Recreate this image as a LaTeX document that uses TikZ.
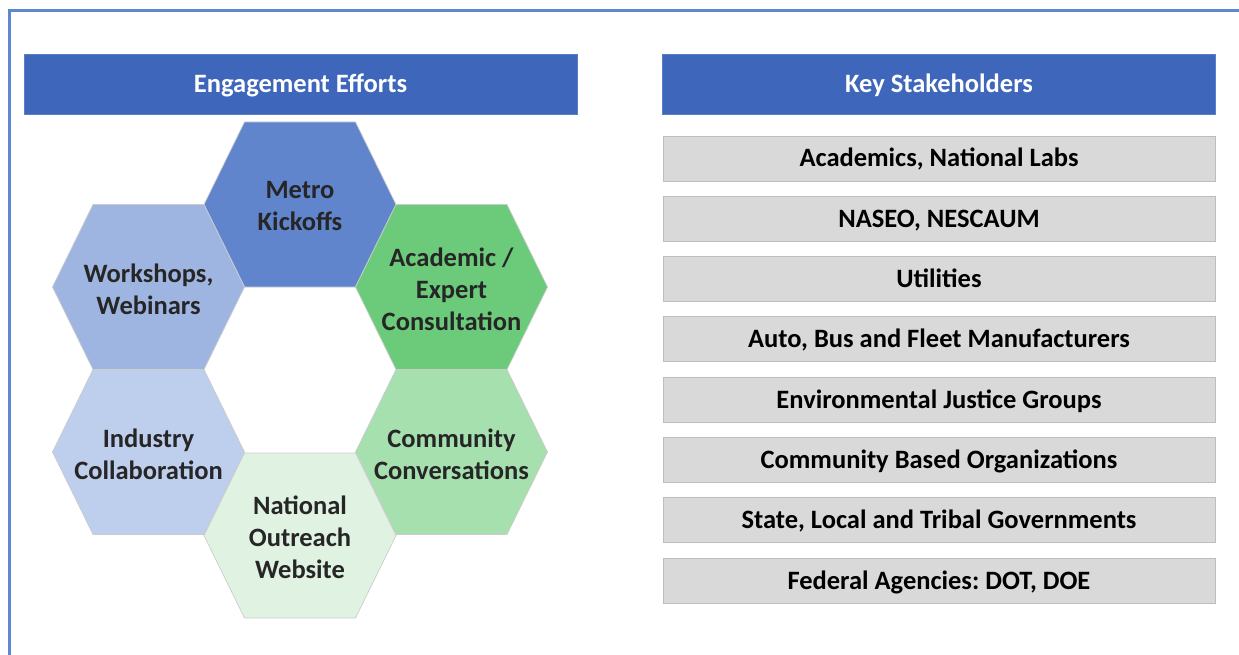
\documentclass[tikz,border=0pt]{standalone}
\usepackage{fontspec}
\setmainfont{Carlito}
\usepackage{tikz}
\usetikzlibrary{calc}
\frenchspacing

\definecolor{hdrblue}{HTML}{3E67BC}
\definecolor{framblue}{HTML}{5E86D2}
\definecolor{greybox}{HTML}{D9D9D9}
\definecolor{greyedge}{HTML}{BDBDBD}
\definecolor{hexA}{HTML}{6085CC}
\definecolor{hexB}{HTML}{9FB5E1}
\definecolor{hexC}{HTML}{BECEED}
\definecolor{hexD}{HTML}{6BCB7A}
\definecolor{hexE}{HTML}{A6E0AF}
\definecolor{hexF}{HTML}{E0F3E3}
\definecolor{hextext}{HTML}{262626}

\begin{document}
\begin{tikzpicture}[x=1pt, y=-1pt]
  % -----------------------------
  % USER SETTINGS
  % -----------------------------
  \def\hexW{96}     % half width of hexagon (side vertex)
  \def\hexT{55.5}   % half length of top edge
  \def\hexH{82.5}   % half height of hexagon
  \def\boxgap{60.29} % pitch of stakeholder boxes

  % -----------------------------
  % STYLES
  % -----------------------------
  \tikzset{
    hdr/.style={fill=hdrblue, draw=hdrblue!85!white, minimum width=553pt, minimum height=60pt,
      inner sep=0pt, text=white, font=\fontsize{26.5}{30}\selectfont\bfseries},
    sbox/.style={fill=greybox, draw=greyedge, line width=0.8pt, minimum width=552pt, minimum height=45pt,
      inner sep=0pt, font=\fontsize{26.5}{30}\selectfont\bfseries},
    hexfill/.style={fill=#1, draw=white!80!black, line width=0.7pt},
    hexlab/.style={align=center, text=hextext, inner sep=0pt, font=\fontsize{26.5}{32}\selectfont\bfseries},
    lift/.style={text depth=0pt, text height=17pt},
  }

  \useasboundingbox (0,0) rectangle (1239,655);

  % -----------------------------
  % OUTER FRAME (open to right and bottom)
  % -----------------------------
  \draw[framblue, line width=3pt] (9,655) -- (9,11) -- (1239,11);

  % -----------------------------
  % HEADERS
  % -----------------------------
  \node[hdr, lift] (hdrL) at (300.5,84) {Engagement Efforts};
  \node[hdr, lift] (hdrR) at (939,84) {Key Stakeholders};

  % -----------------------------
  % HEXAGONS + LABELS
  % -----------------------------
  \foreach \nm/\cx/\cy/\col/\txt in {
      metro/300/204.5/hexA/{Metro\\Kickoffs},
      works/148.5/287/hexB/{Workshops,\\Webinars},
      acad/451.5/287/hexD/{Academic /\\Expert\\Consultation},
      indus/148.5/452/hexC/{Industry\\Collaboration},
      commu/451.5/452/hexE/{Community\\Conversations},
      natl/300/535.5/hexF/{National\\Outreach\\Website}} {
    \filldraw[hexfill=\col] (\cx,\cy) ++(-\hexW,0) -- ++({\hexW-\hexT},-\hexH) -- ++({2*\hexT},0)
      -- ++({\hexW-\hexT},\hexH) -- ++({\hexT-\hexW},\hexH) -- ++({-2*\hexT},0) -- cycle;
    \node[hexlab] (\nm) at (\cx,{\cy+2}) {\txt};
  }

  % -----------------------------
  % STAKEHOLDER LIST
  % -----------------------------
  \foreach \k/\txt in {
      1/{Academics, National Labs},
      2/{NASEO, NESCAUM},
      3/{Utilities},
      4/{Auto, Bus and Fleet Manufacturers},
      5/{Environmental Justice Groups},
      6/{Community Based Organizations},
      7/{State, Local and Tribal Governments},
      8/{Federal Agencies: DOT, DOE}} {
    \node[sbox, lift] (s\k) at (939,{158.5+(\k-1)*\boxgap}) {\txt};
  }
\end{tikzpicture}
\end{document}
